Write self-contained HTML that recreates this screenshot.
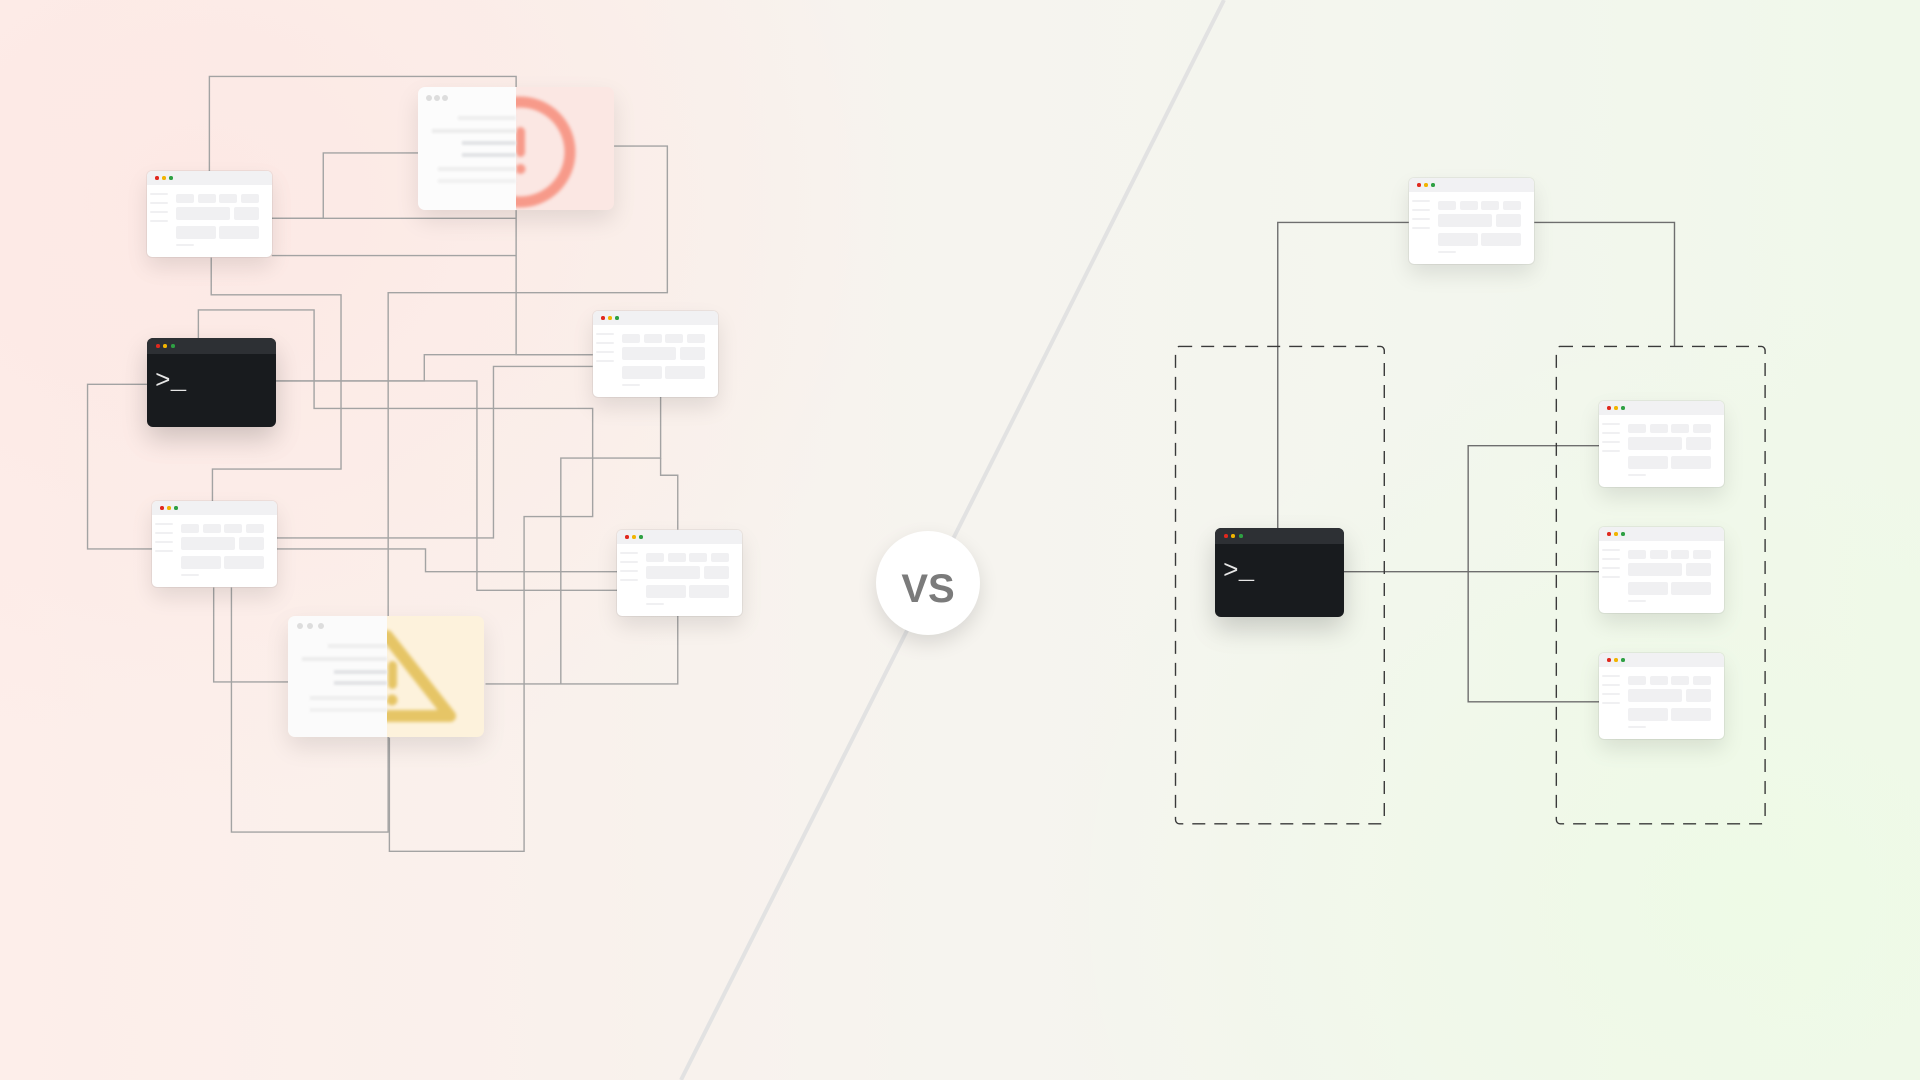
<!DOCTYPE html>
<html><head><meta charset="utf-8"><style>
html,body{margin:0;padding:0}
body{width:1920px;height:1080px;position:relative;overflow:hidden;font-family:"Liberation Sans",sans-serif;
background:linear-gradient(90deg,#fdeeea 0%,#f9f1ec 30%,#f6f4ef 50%,#f3f6ee 75%,#f0f8ea 100%);}
.bgl{position:absolute;left:0;top:0;width:1920px;height:1080px;background:radial-gradient(ellipse 700px 600px at 200px 200px,rgba(253,232,228,.9),rgba(253,232,228,0));}
.bgr{position:absolute;left:0;top:0;width:1920px;height:1080px;background:radial-gradient(ellipse 700px 600px at 1750px 900px,rgba(238,250,230,.9),rgba(238,250,230,0));}
svg.l{position:absolute;left:0;top:0}
.br{position:absolute;width:125px;height:86px;background:#fff;border-radius:5px;box-shadow:0 10px 22px rgba(0,0,0,.10),0 0 0 1px rgba(0,0,0,.05);overflow:hidden}
.br .h{position:absolute;left:0;top:0;right:0;height:14px;background:#f1f1f3}
.d{position:absolute;top:5px;width:3.5px;height:3.5px;border-radius:50%}
.r{background:#e0281e}.y{background:#f1b400}.g{background:#2ea043}
.br i{position:absolute;background:#f0f0f2;border-radius:2px}
.tm{position:absolute;width:129px;height:89px;background:#181b1e;border-radius:6px;box-shadow:0 12px 26px rgba(0,0,0,.18);overflow:hidden}
.tm .h{position:absolute;left:0;top:0;right:0;height:16px;background:#2d3034}
.tm .p{position:absolute;left:8px;top:28px;color:#e6e6e6;font-family:"Liberation Mono",monospace;font-size:26px;line-height:30px}
.card{position:absolute;border-radius:7px;overflow:hidden;box-shadow:0 10px 24px rgba(0,0,0,.10)}
.vs{position:absolute;left:876px;top:531px;width:104px;height:104px;border-radius:50%;background:#fff;box-shadow:0 8px 20px rgba(0,0,0,.12);text-align:center;line-height:116px;font-weight:bold;font-size:40px;color:#7b7b7b}
</style></head><body>
<div class="bgl"></div><div class="bgr"></div>
<svg class="l" width="1920" height="1080"><line x1="1224" y1="0" x2="681" y2="1080" stroke="#e2e2e2" stroke-width="4"/></svg>

<svg class="l" width="960" height="1080" viewBox="0 0 1568 1568" preserveAspectRatio="none" fill="none" stroke="#a3a3a3" stroke-width="1.4">
<polyline vector-effect="non-scaling-stroke" points="342,249 342,111 843,111 843,127"/>
<polyline vector-effect="non-scaling-stroke" points="444,317 528,317 528,222 683,222"/>
<polyline vector-effect="non-scaling-stroke" points="444,317 843,317"/>
<polyline vector-effect="non-scaling-stroke" points="444,371 843,371"/>
<polyline vector-effect="non-scaling-stroke" points="843,305 843,515 968,515"/>
<polyline vector-effect="non-scaling-stroke" points="1003,212 1090,212 1090,425 634,425 634,1208 378,1208 378,853"/>
<polyline vector-effect="non-scaling-stroke" points="345,374 345,428 557,428 557,681 347,681 347,728"/>
<polyline vector-effect="non-scaling-stroke" points="324,491 324,450 513,450 513,593 968,593 968,750 856,750 856,1236 636,1236 636,1071"/>
<polyline vector-effect="non-scaling-stroke" points="451,553 693,553 693,515 968,515"/>
<polyline vector-effect="non-scaling-stroke" points="451,553 779,553 779,857 1008,857"/>
<polyline vector-effect="non-scaling-stroke" points="240,558 143,558 143,797 248,797"/>
<polyline vector-effect="non-scaling-stroke" points="1079,576 1079,665 916,665 916,993"/>
<polyline vector-effect="non-scaling-stroke" points="1079,665 1079,690 1107,690 1107,769"/>
<polyline vector-effect="non-scaling-stroke" points="452,781 806,781 806,532 968,532"/>
<polyline vector-effect="non-scaling-stroke" points="452,797 695,797 695,830 1008,830"/>
<polyline vector-effect="non-scaling-stroke" points="349,853 349,990 472,990"/>
<polyline vector-effect="non-scaling-stroke" points="793,993 1107,993 1107,893"/>
</svg>

<svg class="l" style="left:960px" width="960" height="1080" viewBox="0 0 1568 1568" preserveAspectRatio="none" fill="none" stroke="#6e6e6e" stroke-width="1.4">
<polyline vector-effect="non-scaling-stroke" points="733,323 519,323 519,767"/>
<polyline vector-effect="non-scaling-stroke" points="938,323 1167,323 1167,503"/>
<polyline vector-effect="non-scaling-stroke" points="627,830 1044,830"/>
<polyline vector-effect="non-scaling-stroke" points="1044,647 830,647 830,1019 1044,1019"/>
<rect vector-effect="non-scaling-stroke" x="352" y="503" width="341" height="693" rx="6" stroke="#3a3a3a" stroke-dasharray="13 9"/>
<rect vector-effect="non-scaling-stroke" x="974" y="503" width="341" height="693" rx="6" stroke="#3a3a3a" stroke-dasharray="13 9"/>
</svg>

<!-- error card -->
<div class="card" style="left:418px;top:87px;width:196px;height:123px;background:#fbe7e3">
<svg width="196" height="123" style="position:absolute;left:0;top:0;filter:blur(1.5px)"><circle cx="102" cy="65" r="50" fill="none" stroke="#f79a8a" stroke-width="11"/><rect x="98" y="40" width="9" height="30" rx="4.5" fill="#f79a8a"/><circle cx="102.5" cy="82" r="5" fill="#f79a8a"/></svg>
<div style="position:absolute;left:0;top:0;width:98px;height:123px;background:#fcfcfc">
<span style="position:absolute;left:8px;top:8px;width:6px;height:6px;border-radius:50%;background:#ddd"></span>
<span style="position:absolute;left:16px;top:8px;width:6px;height:6px;border-radius:50%;background:#ddd"></span>
<span style="position:absolute;left:24px;top:8px;width:6px;height:6px;border-radius:50%;background:#ddd"></span>
<i style="position:absolute;left:40px;top:29px;width:58px;height:4px;background:#eee;filter:blur(1px)"></i>
<i style="position:absolute;left:14px;top:42px;width:84px;height:4px;background:#ececec;filter:blur(1px)"></i>
<i style="position:absolute;left:44px;top:54px;width:54px;height:4px;background:#e2e3e6;filter:blur(1px)"></i>
<i style="position:absolute;left:44px;top:66px;width:54px;height:4px;background:#e2e3e6;filter:blur(1px)"></i>
<i style="position:absolute;left:20px;top:80px;width:78px;height:4px;background:#eee;filter:blur(1px)"></i>
<i style="position:absolute;left:20px;top:92px;width:78px;height:4px;background:#f0f0f0;filter:blur(1px)"></i>
</div></div>

<!-- warning card -->
<div class="card" style="left:288px;top:616px;width:196px;height:121px;background:#fdf2dc">
<svg width="196" height="121" style="position:absolute;left:0;top:0;filter:blur(1.5px)"><path d="M99 20 L162 100 L36 100 Z" fill="none" stroke="#e6c566" stroke-width="12" stroke-linejoin="round"/><rect x="100" y="45" width="9" height="28" rx="4.5" fill="#e6c566"/><circle cx="104" cy="84" r="5.5" fill="#e6c566"/></svg>
<div style="position:absolute;left:0;top:0;width:99px;height:121px;background:#fbfbfb">
<span style="position:absolute;left:9px;top:7px;width:6px;height:6px;border-radius:50%;background:#ddd"></span>
<span style="position:absolute;left:19px;top:7px;width:6px;height:6px;border-radius:50%;background:#ddd"></span>
<span style="position:absolute;left:30px;top:7px;width:6px;height:6px;border-radius:50%;background:#ddd"></span>
<i style="position:absolute;left:40px;top:28px;width:59px;height:4px;background:#eee;filter:blur(1px)"></i>
<i style="position:absolute;left:14px;top:41px;width:85px;height:4px;background:#ececec;filter:blur(1px)"></i>
<i style="position:absolute;left:46px;top:54px;width:53px;height:4px;background:#e2e3e6;filter:blur(1px)"></i>
<i style="position:absolute;left:46px;top:65px;width:53px;height:4px;background:#e2e3e6;filter:blur(1px)"></i>
<i style="position:absolute;left:22px;top:80px;width:77px;height:4px;background:#eee;filter:blur(1px)"></i>
<i style="position:absolute;left:22px;top:92px;width:77px;height:4px;background:#f0f0f0;filter:blur(1px)"></i>
</div></div>

<div class="br" style="left:147px;top:171px"><div class="h"></div><span class="d r" style="left:8px"></span><span class="d y" style="left:15px"></span><span class="d g" style="left:22px"></span><i style="left:3px;top:22px;width:18px;height:2px"></i><i style="left:3px;top:31px;width:18px;height:2px"></i><i style="left:3px;top:40px;width:18px;height:2px"></i><i style="left:3px;top:49px;width:18px;height:2px"></i><i style="left:29px;top:23px;width:18px;height:9px"></i><i style="left:51px;top:23px;width:18px;height:9px"></i><i style="left:72px;top:23px;width:18px;height:9px"></i><i style="left:94px;top:23px;width:18px;height:9px"></i><i style="left:29px;top:36px;width:54px;height:13px"></i><i style="left:87px;top:36px;width:25px;height:13px"></i><i style="left:29px;top:55px;width:40px;height:13px"></i><i style="left:72px;top:55px;width:40px;height:13px"></i><i style="left:29px;top:73px;width:18px;height:2px"></i></div>
<div class="br" style="left:593px;top:311px"><div class="h"></div><span class="d r" style="left:8px"></span><span class="d y" style="left:15px"></span><span class="d g" style="left:22px"></span><i style="left:3px;top:22px;width:18px;height:2px"></i><i style="left:3px;top:31px;width:18px;height:2px"></i><i style="left:3px;top:40px;width:18px;height:2px"></i><i style="left:3px;top:49px;width:18px;height:2px"></i><i style="left:29px;top:23px;width:18px;height:9px"></i><i style="left:51px;top:23px;width:18px;height:9px"></i><i style="left:72px;top:23px;width:18px;height:9px"></i><i style="left:94px;top:23px;width:18px;height:9px"></i><i style="left:29px;top:36px;width:54px;height:13px"></i><i style="left:87px;top:36px;width:25px;height:13px"></i><i style="left:29px;top:55px;width:40px;height:13px"></i><i style="left:72px;top:55px;width:40px;height:13px"></i><i style="left:29px;top:73px;width:18px;height:2px"></i></div>
<div class="br" style="left:152px;top:501px"><div class="h"></div><span class="d r" style="left:8px"></span><span class="d y" style="left:15px"></span><span class="d g" style="left:22px"></span><i style="left:3px;top:22px;width:18px;height:2px"></i><i style="left:3px;top:31px;width:18px;height:2px"></i><i style="left:3px;top:40px;width:18px;height:2px"></i><i style="left:3px;top:49px;width:18px;height:2px"></i><i style="left:29px;top:23px;width:18px;height:9px"></i><i style="left:51px;top:23px;width:18px;height:9px"></i><i style="left:72px;top:23px;width:18px;height:9px"></i><i style="left:94px;top:23px;width:18px;height:9px"></i><i style="left:29px;top:36px;width:54px;height:13px"></i><i style="left:87px;top:36px;width:25px;height:13px"></i><i style="left:29px;top:55px;width:40px;height:13px"></i><i style="left:72px;top:55px;width:40px;height:13px"></i><i style="left:29px;top:73px;width:18px;height:2px"></i></div>
<div class="br" style="left:617px;top:530px"><div class="h"></div><span class="d r" style="left:8px"></span><span class="d y" style="left:15px"></span><span class="d g" style="left:22px"></span><i style="left:3px;top:22px;width:18px;height:2px"></i><i style="left:3px;top:31px;width:18px;height:2px"></i><i style="left:3px;top:40px;width:18px;height:2px"></i><i style="left:3px;top:49px;width:18px;height:2px"></i><i style="left:29px;top:23px;width:18px;height:9px"></i><i style="left:51px;top:23px;width:18px;height:9px"></i><i style="left:72px;top:23px;width:18px;height:9px"></i><i style="left:94px;top:23px;width:18px;height:9px"></i><i style="left:29px;top:36px;width:54px;height:13px"></i><i style="left:87px;top:36px;width:25px;height:13px"></i><i style="left:29px;top:55px;width:40px;height:13px"></i><i style="left:72px;top:55px;width:40px;height:13px"></i><i style="left:29px;top:73px;width:18px;height:2px"></i></div>
<div class="br" style="left:1409px;top:178px"><div class="h"></div><span class="d r" style="left:8px"></span><span class="d y" style="left:15px"></span><span class="d g" style="left:22px"></span><i style="left:3px;top:22px;width:18px;height:2px"></i><i style="left:3px;top:31px;width:18px;height:2px"></i><i style="left:3px;top:40px;width:18px;height:2px"></i><i style="left:3px;top:49px;width:18px;height:2px"></i><i style="left:29px;top:23px;width:18px;height:9px"></i><i style="left:51px;top:23px;width:18px;height:9px"></i><i style="left:72px;top:23px;width:18px;height:9px"></i><i style="left:94px;top:23px;width:18px;height:9px"></i><i style="left:29px;top:36px;width:54px;height:13px"></i><i style="left:87px;top:36px;width:25px;height:13px"></i><i style="left:29px;top:55px;width:40px;height:13px"></i><i style="left:72px;top:55px;width:40px;height:13px"></i><i style="left:29px;top:73px;width:18px;height:2px"></i></div>
<div class="br" style="left:1599px;top:401px"><div class="h"></div><span class="d r" style="left:8px"></span><span class="d y" style="left:15px"></span><span class="d g" style="left:22px"></span><i style="left:3px;top:22px;width:18px;height:2px"></i><i style="left:3px;top:31px;width:18px;height:2px"></i><i style="left:3px;top:40px;width:18px;height:2px"></i><i style="left:3px;top:49px;width:18px;height:2px"></i><i style="left:29px;top:23px;width:18px;height:9px"></i><i style="left:51px;top:23px;width:18px;height:9px"></i><i style="left:72px;top:23px;width:18px;height:9px"></i><i style="left:94px;top:23px;width:18px;height:9px"></i><i style="left:29px;top:36px;width:54px;height:13px"></i><i style="left:87px;top:36px;width:25px;height:13px"></i><i style="left:29px;top:55px;width:40px;height:13px"></i><i style="left:72px;top:55px;width:40px;height:13px"></i><i style="left:29px;top:73px;width:18px;height:2px"></i></div>
<div class="br" style="left:1599px;top:527px"><div class="h"></div><span class="d r" style="left:8px"></span><span class="d y" style="left:15px"></span><span class="d g" style="left:22px"></span><i style="left:3px;top:22px;width:18px;height:2px"></i><i style="left:3px;top:31px;width:18px;height:2px"></i><i style="left:3px;top:40px;width:18px;height:2px"></i><i style="left:3px;top:49px;width:18px;height:2px"></i><i style="left:29px;top:23px;width:18px;height:9px"></i><i style="left:51px;top:23px;width:18px;height:9px"></i><i style="left:72px;top:23px;width:18px;height:9px"></i><i style="left:94px;top:23px;width:18px;height:9px"></i><i style="left:29px;top:36px;width:54px;height:13px"></i><i style="left:87px;top:36px;width:25px;height:13px"></i><i style="left:29px;top:55px;width:40px;height:13px"></i><i style="left:72px;top:55px;width:40px;height:13px"></i><i style="left:29px;top:73px;width:18px;height:2px"></i></div>
<div class="br" style="left:1599px;top:653px"><div class="h"></div><span class="d r" style="left:8px"></span><span class="d y" style="left:15px"></span><span class="d g" style="left:22px"></span><i style="left:3px;top:22px;width:18px;height:2px"></i><i style="left:3px;top:31px;width:18px;height:2px"></i><i style="left:3px;top:40px;width:18px;height:2px"></i><i style="left:3px;top:49px;width:18px;height:2px"></i><i style="left:29px;top:23px;width:18px;height:9px"></i><i style="left:51px;top:23px;width:18px;height:9px"></i><i style="left:72px;top:23px;width:18px;height:9px"></i><i style="left:94px;top:23px;width:18px;height:9px"></i><i style="left:29px;top:36px;width:54px;height:13px"></i><i style="left:87px;top:36px;width:25px;height:13px"></i><i style="left:29px;top:55px;width:40px;height:13px"></i><i style="left:72px;top:55px;width:40px;height:13px"></i><i style="left:29px;top:73px;width:18px;height:2px"></i></div>

<div class="tm" style="left:147px;top:338px"><div class="h"></div><span class="d r" style="left:9px;top:6px"></span><span class="d y" style="left:16px;top:6px"></span><span class="d g" style="left:24px;top:6px"></span><div class="p">&gt;_</div></div>
<div class="tm" style="left:1215px;top:528px"><div class="h"></div><span class="d r" style="left:9px;top:6px"></span><span class="d y" style="left:16px;top:6px"></span><span class="d g" style="left:24px;top:6px"></span><div class="p">&gt;_</div></div>

<div class="vs">VS</div>
</body></html>
